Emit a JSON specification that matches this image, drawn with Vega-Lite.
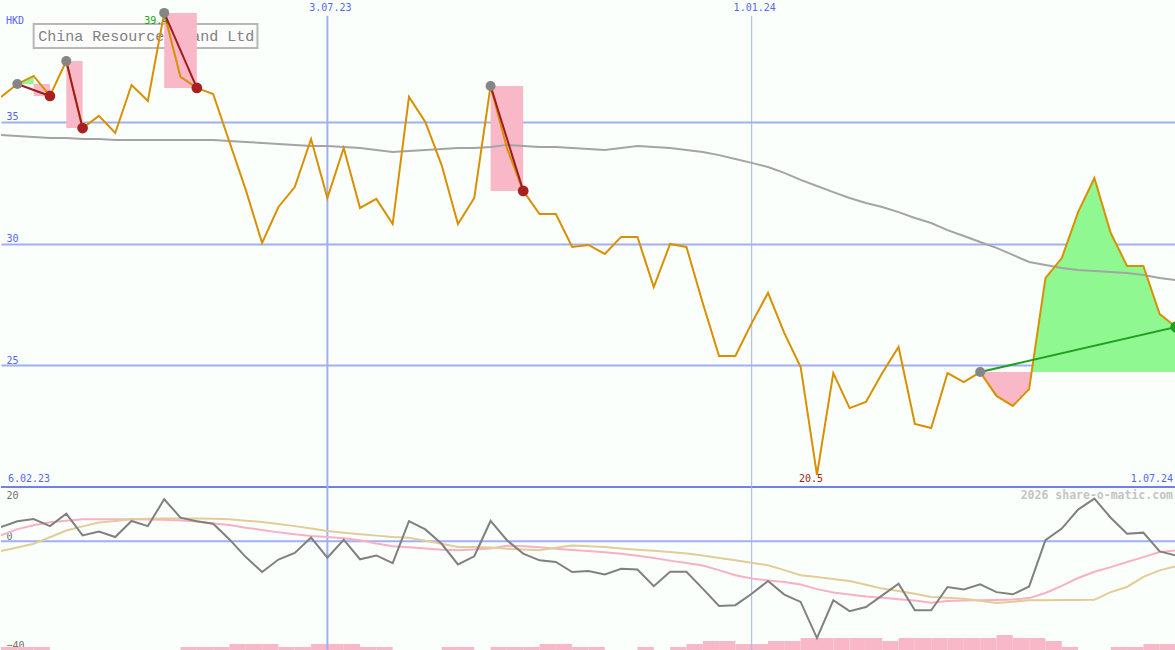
{
  "$schema": "https://vega.github.io/schema/vega-lite/v6.json",
  "background": "#fbfffb",
  "padding": 0,
  "spacing": 0,
  "bounds": "flush",
  "config": {
    "view": {"stroke": null},
    "axisX": {"disable": true},
    "axisY": {"domain": false, "ticks": false, "tickSize": 0, "labelAlign": "left", "labelPadding": -5, "labelFont": "DejaVu Sans Mono", "labelFontSize": 10}
  },
  "datasets": {
    "w": [
      {"d": "2023-02-13", "p": 36.02, "ma": 34.46, "mo": 5.3, "pk": 2.2, "tn": -3.6},
      {"d": "2023-02-20", "p": 36.55, "ma": 34.41, "mo": 7.4, "pk": 4.5, "tn": -2.3},
      {"d": "2023-02-27", "p": 36.88, "ma": 34.37, "mo": 8.2, "pk": 5.9, "tn": -0.9},
      {"d": "2023-03-06", "p": 36.06, "ma": 34.33, "mo": 5.6, "pk": 7.0, "tn": 1.5},
      {"d": "2023-03-13", "p": 37.49, "ma": 34.33, "mo": 10.2, "pk": 7.6, "tn": 4.0},
      {"d": "2023-03-20", "p": 34.74, "ma": 34.29, "mo": 2.2, "pk": 8.1, "tn": 5.5},
      {"d": "2023-03-27", "p": 35.24, "ma": 34.29, "mo": 3.6, "pk": 8.1, "tn": 6.9},
      {"d": "2023-04-03", "p": 34.54, "ma": 34.25, "mo": 1.6, "pk": 8.1, "tn": 7.5},
      {"d": "2023-04-10", "p": 36.51, "ma": 34.25, "mo": 7.5, "pk": 8.1, "tn": 8.1},
      {"d": "2023-04-17", "p": 35.85, "ma": 34.25, "mo": 5.6, "pk": 8.0, "tn": 8.3},
      {"d": "2023-04-24", "p": 39.47, "ma": 34.25, "mo": 15.5, "pk": 7.9, "tn": 8.4},
      {"d": "2023-05-01", "p": 36.84, "ma": 34.25, "mo": 8.7, "pk": 7.7, "tn": 8.4},
      {"d": "2023-05-08", "p": 36.39, "ma": 34.25, "mo": 7.4, "pk": 7.3, "tn": 8.4},
      {"d": "2023-05-15", "p": 36.14, "ma": 34.25, "mo": 6.5, "pk": 6.6, "tn": 8.3},
      {"d": "2023-05-22", "p": 34.17, "ma": 34.21, "mo": 0.7, "pk": 6.0, "tn": 8.1},
      {"d": "2023-05-29", "p": 32.20, "ma": 34.17, "mo": -5.8, "pk": 5.0, "tn": 7.6},
      {"d": "2023-06-05", "p": 30.02, "ma": 34.13, "mo": -11.3, "pk": 4.2, "tn": 7.1},
      {"d": "2023-06-12", "p": 31.50, "ma": 34.09, "mo": -6.7, "pk": 3.3, "tn": 6.4},
      {"d": "2023-06-19", "p": 32.32, "ma": 34.05, "mo": -4.3, "pk": 2.6, "tn": 5.6},
      {"d": "2023-06-26", "p": 34.29, "ma": 34.00, "mo": 1.4, "pk": 2.0, "tn": 4.7},
      {"d": "2023-07-03", "p": 31.87, "ma": 34.00, "mo": -6.0, "pk": 1.6, "tn": 3.8},
      {"d": "2023-07-10", "p": 33.92, "ma": 33.96, "mo": 0.6, "pk": 1.1, "tn": 3.2},
      {"d": "2023-07-17", "p": 31.46, "ma": 33.92, "mo": -6.6, "pk": 0.4, "tn": 2.6},
      {"d": "2023-07-24", "p": 31.83, "ma": 33.84, "mo": -5.2, "pk": -0.8, "tn": 2.1},
      {"d": "2023-07-31", "p": 30.80, "ma": 33.76, "mo": -8.0, "pk": -1.8, "tn": 1.6},
      {"d": "2023-08-07", "p": 36.02, "ma": 33.80, "mo": 7.4, "pk": -2.2, "tn": 1.3},
      {"d": "2023-08-14", "p": 34.99, "ma": 33.84, "mo": 4.4, "pk": -2.6, "tn": 0.2},
      {"d": "2023-08-21", "p": 33.22, "ma": 33.88, "mo": -0.9, "pk": -3.1, "tn": -0.9},
      {"d": "2023-08-28", "p": 30.80, "ma": 33.92, "mo": -8.5, "pk": -3.3, "tn": -2.1},
      {"d": "2023-09-04", "p": 31.87, "ma": 33.92, "mo": -5.5, "pk": -3.0, "tn": -2.1},
      {"d": "2023-09-11", "p": 36.47, "ma": 33.96, "mo": 7.5, "pk": -2.6, "tn": -2.3},
      {"d": "2023-09-18", "p": 33.92, "ma": 34.05, "mo": 0.4, "pk": -1.6, "tn": -2.7},
      {"d": "2023-09-25", "p": 32.16, "ma": 34.00, "mo": -4.5, "pk": -1.8, "tn": -3.0},
      {"d": "2023-10-02", "p": 31.21, "ma": 33.96, "mo": -7.0, "pk": -2.2, "tn": -3.3},
      {"d": "2023-10-09", "p": 31.21, "ma": 33.96, "mo": -7.6, "pk": -2.7, "tn": -2.4},
      {"d": "2023-10-16", "p": 29.86, "ma": 33.92, "mo": -11.3, "pk": -3.2, "tn": -1.5},
      {"d": "2023-10-23", "p": 29.94, "ma": 33.88, "mo": -10.9, "pk": -3.6, "tn": -1.8},
      {"d": "2023-10-30", "p": 29.57, "ma": 33.84, "mo": -12.2, "pk": -4.0, "tn": -2.1},
      {"d": "2023-11-06", "p": 30.27, "ma": 33.92, "mo": -10.1, "pk": -4.6, "tn": -2.6},
      {"d": "2023-11-13", "p": 30.27, "ma": 34.00, "mo": -10.4, "pk": -5.3, "tn": -3.1},
      {"d": "2023-11-20", "p": 28.21, "ma": 33.96, "mo": -16.5, "pk": -6.1, "tn": -3.5},
      {"d": "2023-11-27", "p": 29.98, "ma": 33.92, "mo": -11.2, "pk": -7.1, "tn": -3.9},
      {"d": "2023-12-04", "p": 29.86, "ma": 33.84, "mo": -11.2, "pk": -8.0, "tn": -4.5},
      {"d": "2023-12-11", "p": 27.56, "ma": 33.76, "mo": -17.4, "pk": -8.9, "tn": -5.2},
      {"d": "2023-12-18", "p": 25.38, "ma": 33.63, "mo": -23.8, "pk": -10.6, "tn": -6.1},
      {"d": "2023-12-25", "p": 25.38, "ma": 33.47, "mo": -23.5, "pk": -12.5, "tn": -7.0},
      {"d": "2024-01-01", "p": 26.73, "ma": 33.31, "mo": -19.3, "pk": -13.7, "tn": -7.9},
      {"d": "2024-01-08", "p": 27.97, "ma": 33.14, "mo": -14.6, "pk": -14.4, "tn": -8.8},
      {"d": "2024-01-15", "p": 26.32, "ma": 32.90, "mo": -19.6, "pk": -15.0, "tn": -10.6},
      {"d": "2024-01-22", "p": 24.93, "ma": 32.61, "mo": -22.3, "pk": -15.9, "tn": -12.5},
      {"d": "2024-01-29", "p": 20.50, "ma": 32.36, "mo": -35.6, "pk": -17.6, "tn": -13.1},
      {"d": "2024-02-05", "p": 24.68, "ma": 32.11, "mo": -21.7, "pk": -18.8, "tn": -13.9},
      {"d": "2024-02-12", "p": 23.24, "ma": 31.87, "mo": -25.7, "pk": -19.6, "tn": -14.6},
      {"d": "2024-02-19", "p": 23.49, "ma": 31.66, "mo": -24.2, "pk": -20.3, "tn": -16.0},
      {"d": "2024-02-26", "p": 24.68, "ma": 31.50, "mo": -19.9, "pk": -20.8, "tn": -17.4},
      {"d": "2024-03-04", "p": 25.75, "ma": 31.29, "mo": -15.6, "pk": -21.3, "tn": -18.3},
      {"d": "2024-03-11", "p": 22.59, "ma": 31.05, "mo": -25.4, "pk": -21.8, "tn": -19.3},
      {"d": "2024-03-18", "p": 22.42, "ma": 30.84, "mo": -25.4, "pk": -22.6, "tn": -20.5},
      {"d": "2024-03-25", "p": 24.68, "ma": 30.55, "mo": -16.8, "pk": -22.0, "tn": -20.8},
      {"d": "2024-04-01", "p": 24.31, "ma": 30.31, "mo": -17.7, "pk": -21.8, "tn": -21.1},
      {"d": "2024-04-08", "p": 24.72, "ma": 30.06, "mo": -15.8, "pk": -21.7, "tn": -21.9},
      {"d": "2024-04-15", "p": 23.74, "ma": 29.82, "mo": -18.7, "pk": -21.6, "tn": -22.7},
      {"d": "2024-04-22", "p": 23.33, "ma": 29.53, "mo": -19.5, "pk": -21.4, "tn": -22.2},
      {"d": "2024-04-29", "p": 24.02, "ma": 29.24, "mo": -16.6, "pk": -20.9, "tn": -21.7},
      {"d": "2024-05-06", "p": 28.58, "ma": 29.12, "mo": 0.4, "pk": -19.0, "tn": -21.7},
      {"d": "2024-05-13", "p": 29.40, "ma": 28.99, "mo": 4.7, "pk": -16.4, "tn": -21.6},
      {"d": "2024-05-20", "p": 31.29, "ma": 28.91, "mo": 11.7, "pk": -13.5, "tn": -21.6},
      {"d": "2024-05-27", "p": 32.69, "ma": 28.87, "mo": 15.7, "pk": -11.2, "tn": -21.5},
      {"d": "2024-06-03", "p": 30.43, "ma": 28.83, "mo": 8.7, "pk": -9.5, "tn": -18.7},
      {"d": "2024-06-10", "p": 29.08, "ma": 28.79, "mo": 2.8, "pk": -7.6, "tn": -16.8},
      {"d": "2024-06-17", "p": 29.08, "ma": 28.71, "mo": 3.2, "pk": -5.8, "tn": -13.1},
      {"d": "2024-06-24", "p": 27.10, "ma": 28.58, "mo": -3.7, "pk": -3.9, "tn": -10.7},
      {"d": "2024-07-01", "p": 26.57, "ma": 28.50, "mo": -5.2, "pk": -3.3, "tn": -9.2}
    ],
    "vol": [
      {"d": "2023-02-13", "d2": "2023-02-20", "v": 3},
      {"d": "2023-02-20", "d2": "2023-02-27", "v": 3},
      {"d": "2023-02-27", "d2": "2023-03-06", "v": 3},
      {"d": "2023-05-01", "d2": "2023-05-08", "v": 3},
      {"d": "2023-05-08", "d2": "2023-05-15", "v": 3},
      {"d": "2023-05-15", "d2": "2023-05-22", "v": 3},
      {"d": "2023-05-22", "d2": "2023-05-29", "v": 6},
      {"d": "2023-05-29", "d2": "2023-06-05", "v": 6},
      {"d": "2023-06-05", "d2": "2023-06-12", "v": 6},
      {"d": "2023-06-12", "d2": "2023-06-19", "v": 3},
      {"d": "2023-06-19", "d2": "2023-06-26", "v": 3},
      {"d": "2023-06-26", "d2": "2023-07-03", "v": 6},
      {"d": "2023-07-03", "d2": "2023-07-10", "v": 6},
      {"d": "2023-07-10", "d2": "2023-07-17", "v": 6},
      {"d": "2023-07-17", "d2": "2023-07-24", "v": 3},
      {"d": "2023-07-24", "d2": "2023-07-31", "v": 3},
      {"d": "2023-08-21", "d2": "2023-08-28", "v": 3},
      {"d": "2023-08-28", "d2": "2023-09-04", "v": 3},
      {"d": "2023-09-11", "d2": "2023-09-18", "v": 3},
      {"d": "2023-09-18", "d2": "2023-09-25", "v": 3},
      {"d": "2023-09-25", "d2": "2023-10-02", "v": 3},
      {"d": "2023-10-02", "d2": "2023-10-09", "v": 6},
      {"d": "2023-10-09", "d2": "2023-10-16", "v": 6},
      {"d": "2023-10-16", "d2": "2023-10-23", "v": 3},
      {"d": "2023-10-23", "d2": "2023-10-30", "v": 3},
      {"d": "2023-11-13", "d2": "2023-11-20", "v": 3},
      {"d": "2023-11-27", "d2": "2023-12-04", "v": 3},
      {"d": "2023-12-04", "d2": "2023-12-11", "v": 6},
      {"d": "2023-12-11", "d2": "2023-12-18", "v": 9},
      {"d": "2023-12-18", "d2": "2023-12-25", "v": 9},
      {"d": "2023-12-25", "d2": "2024-01-01", "v": 6},
      {"d": "2024-01-01", "d2": "2024-01-08", "v": 6},
      {"d": "2024-01-08", "d2": "2024-01-15", "v": 9},
      {"d": "2024-01-15", "d2": "2024-01-22", "v": 9},
      {"d": "2024-01-22", "d2": "2024-01-29", "v": 12},
      {"d": "2024-01-29", "d2": "2024-02-05", "v": 12},
      {"d": "2024-02-05", "d2": "2024-02-12", "v": 12},
      {"d": "2024-02-12", "d2": "2024-02-19", "v": 12},
      {"d": "2024-02-19", "d2": "2024-02-26", "v": 12},
      {"d": "2024-02-26", "d2": "2024-03-04", "v": 9},
      {"d": "2024-03-04", "d2": "2024-03-11", "v": 12},
      {"d": "2024-03-11", "d2": "2024-03-18", "v": 12},
      {"d": "2024-03-18", "d2": "2024-03-25", "v": 12},
      {"d": "2024-03-25", "d2": "2024-04-01", "v": 12},
      {"d": "2024-04-01", "d2": "2024-04-08", "v": 12},
      {"d": "2024-04-08", "d2": "2024-04-15", "v": 12},
      {"d": "2024-04-15", "d2": "2024-04-22", "v": 15},
      {"d": "2024-04-22", "d2": "2024-04-29", "v": 12},
      {"d": "2024-04-29", "d2": "2024-05-06", "v": 12},
      {"d": "2024-05-06", "d2": "2024-05-13", "v": 9},
      {"d": "2024-05-13", "d2": "2024-05-20", "v": 3},
      {"d": "2024-06-03", "d2": "2024-06-10", "v": 3},
      {"d": "2024-06-10", "d2": "2024-06-17", "v": 3},
      {"d": "2024-06-17", "d2": "2024-06-24", "v": 6},
      {"d": "2024-06-24", "d2": "2024-07-01", "v": 6}
    ],
    "boxes": [
      {"s": 1, "d1": "2023-02-27", "d2": "2023-03-06", "hi": 36.55, "lo": 36.06},
      {"s": 2, "d1": "2023-03-13", "d2": "2023-03-20", "hi": 37.49, "lo": 34.74},
      {"s": 3, "d1": "2023-04-24", "d2": "2023-05-08", "hi": 39.47, "lo": 36.39},
      {"s": 4, "d1": "2023-09-11", "d2": "2023-09-25", "hi": 36.47, "lo": 32.16}
    ],
    "zones": [
      {"z": "a", "d": "2023-02-20", "p": 36.55, "lvl": 36.55, "kind": "gain"},
      {"z": "a", "d": "2023-02-27", "p": 36.88, "lvl": 36.55, "kind": "gain"},
      {"z": "b", "d": "2024-04-08", "p": 24.72, "lvl": 24.72, "kind": "loss"},
      {"z": "b", "d": "2024-04-15", "p": 23.74, "lvl": 24.72, "kind": "loss"},
      {"z": "b", "d": "2024-04-22", "p": 23.33, "lvl": 24.72, "kind": "loss"},
      {"z": "b", "d": "2024-04-29", "p": 24.02, "lvl": 24.72, "kind": "loss"},
      {"z": "b", "d": "2024-04-30", "p": 24.72, "lvl": 24.72, "kind": "loss"},
      {"z": "c", "d": "2024-04-30", "p": 24.72, "lvl": 24.72, "kind": "gain"},
      {"z": "c", "d": "2024-05-06", "p": 28.58, "lvl": 24.72, "kind": "gain"},
      {"z": "c", "d": "2024-05-13", "p": 29.40, "lvl": 24.72, "kind": "gain"},
      {"z": "c", "d": "2024-05-20", "p": 31.29, "lvl": 24.72, "kind": "gain"},
      {"z": "c", "d": "2024-05-27", "p": 32.69, "lvl": 24.72, "kind": "gain"},
      {"z": "c", "d": "2024-06-03", "p": 30.43, "lvl": 24.72, "kind": "gain"},
      {"z": "c", "d": "2024-06-10", "p": 29.08, "lvl": 24.72, "kind": "gain"},
      {"z": "c", "d": "2024-06-17", "p": 29.08, "lvl": 24.72, "kind": "gain"},
      {"z": "c", "d": "2024-06-24", "p": 27.10, "lvl": 24.72, "kind": "gain"},
      {"z": "c", "d": "2024-07-01", "p": 26.57, "lvl": 24.72, "kind": "gain"}
    ],
    "links": [
      {"s": 1, "d": "2023-02-20", "p": 36.55, "kind": "loss"},
      {"s": 1, "d": "2023-03-06", "p": 36.06, "kind": "loss"},
      {"s": 2, "d": "2023-03-13", "p": 37.49, "kind": "loss"},
      {"s": 2, "d": "2023-03-20", "p": 34.74, "kind": "loss"},
      {"s": 3, "d": "2023-04-24", "p": 39.47, "kind": "loss"},
      {"s": 3, "d": "2023-05-08", "p": 36.39, "kind": "loss"},
      {"s": 4, "d": "2023-09-11", "p": 36.47, "kind": "loss"},
      {"s": 4, "d": "2023-09-25", "p": 32.16, "kind": "loss"},
      {"s": 5, "d": "2024-04-08", "p": 24.72, "kind": "gain"},
      {"s": 5, "d": "2024-07-01", "p": 26.57, "kind": "gain"}
    ],
    "dots": [
      {"d": "2023-02-20", "p": 36.55, "kind": "start"},
      {"d": "2023-03-13", "p": 37.49, "kind": "start"},
      {"d": "2023-04-24", "p": 39.47, "kind": "start"},
      {"d": "2023-09-11", "p": 36.47, "kind": "start"},
      {"d": "2024-04-08", "p": 24.72, "kind": "start"},
      {"d": "2023-03-06", "p": 36.06, "kind": "loss"},
      {"d": "2023-03-20", "p": 34.74, "kind": "loss"},
      {"d": "2023-05-08", "p": 36.39, "kind": "loss"},
      {"d": "2023-09-25", "p": 32.16, "kind": "loss"},
      {"d": "2024-07-01", "p": 26.57, "kind": "gain"}
    ],
    "marks": [
      {"d": "2023-07-03", "t": "3.07.23"},
      {"d": "2024-01-01", "t": "1.01.24"}
    ],
    "ends": [
      {"d": "2023-02-13", "t": "6.02.23"},
      {"d": "2024-07-01", "t": "1.07.24"}
    ],
    "note": [
      {"d1": "2023-02-27", "d2": "2023-06-03", "dt": "2023-03-01", "hi": 39.01, "lo": 38.03, "mid": 38.52, "t": "China Resources Land Ltd"}
    ]
  },
  "vconcat": [
    {
      "width": 1175,
      "height": 487,
      "encoding": {
        "x": {"type": "temporal", "scale": {"type": "utc", "domain": ["2023-02-13", "2024-07-01"]}},
        "y": {"type": "quantitative", "scale": {"domain": [20, 40]}, "title": null, "axis": {"values": [25, 30, 35], "grid": true, "gridColor": "#a0b0f0", "gridWidth": 2, "labelBaseline": "bottom", "labelColor": "#5566ee"}}
      },
      "layer": [
        {
          "data": {"name": "note"},
          "mark": {"type": "rect", "fill": "#fdfdfd", "stroke": "#b8b8b8", "strokeWidth": 2},
          "encoding": {
            "x": {"field": "d1", "type": "temporal"},
            "x2": {"field": "d2"},
            "y": {"field": "hi", "type": "quantitative"},
            "y2": {"field": "lo"}
          }
        },
        {
          "data": {"name": "note"},
          "mark": {"type": "text", "font": "Liberation Mono", "fontSize": 15, "fill": "#808080", "align": "left", "baseline": "middle"},
          "encoding": {
            "x": {"field": "dt", "type": "temporal"},
            "y": {"field": "mid", "type": "quantitative"},
            "text": {"field": "t"}
          }
        },
        {
          "data": {"values": [{"v": 20}]},
          "mark": {"type": "rule", "color": "#7080e8", "strokeWidth": 2},
          "encoding": {"y": {"field": "v", "type": "quantitative"}}
        },
        {
          "data": {"name": "marks"},
          "mark": {"type": "rule", "color": "#a0b0f0"},
          "encoding": {
            "x": {"field": "d", "type": "temporal"},
            "y": {"datum": 39.35, "type": "quantitative"},
            "y2": {"datum": 20},
            "strokeWidth": {"condition": {"test": "utcyear(datum.d) == 2023", "value": 2}, "value": 1}
          }
        },
        {
          "data": {"name": "marks"},
          "mark": {"type": "text", "font": "DejaVu Sans Mono", "fontSize": 10, "fill": "#5566ee", "align": "center", "baseline": "middle", "dx": 3},
          "encoding": {
            "x": {"field": "d", "type": "temporal"},
            "y": {"datum": 39.66, "type": "quantitative"},
            "text": {"field": "t"}
          }
        },
        {
          "data": {"name": "ends"},
          "transform": [{"filter": "utcyear(datum.d) == 2023"}],
          "mark": {"type": "text", "font": "DejaVu Sans Mono", "fontSize": 10, "fill": "#5566ee", "align": "left", "baseline": "middle", "dx": 7},
          "encoding": {
            "x": {"field": "d", "type": "temporal"},
            "y": {"datum": 20.33, "type": "quantitative"},
            "text": {"field": "t"}
          }
        },
        {
          "data": {"name": "ends"},
          "transform": [{"filter": "utcyear(datum.d) == 2024"}],
          "mark": {"type": "text", "font": "DejaVu Sans Mono", "fontSize": 10, "fill": "#5566ee", "align": "right", "baseline": "middle", "dx": -3},
          "encoding": {
            "x": {"field": "d", "type": "temporal"},
            "y": {"datum": 20.33, "type": "quantitative"},
            "text": {"field": "t"}
          }
        },
        {
          "data": {"name": "ends"},
          "transform": [{"filter": "utcyear(datum.d) == 2023"}],
          "mark": {"type": "text", "font": "DejaVu Sans Mono", "fontSize": 10, "fill": "#5566ee", "align": "left", "baseline": "middle", "dx": 5},
          "encoding": {
            "x": {"field": "d", "type": "temporal"},
            "y": {"datum": 39.14, "type": "quantitative"},
            "text": {"value": "HKD"}
          }
        },
        {
          "data": {"name": "boxes"},
          "mark": {"type": "rect", "color": "#f8b8c8", "opacity": 1},
          "encoding": {
            "x": {"field": "d1", "type": "temporal"},
            "x2": {"field": "d2"},
            "y": {"field": "hi", "type": "quantitative"},
            "y2": {"field": "lo"}
          }
        },
        {
          "data": {"name": "zones"},
          "mark": {"type": "area", "opacity": 1},
          "encoding": {
            "x": {"field": "d", "type": "temporal"},
            "y": {"field": "p", "type": "quantitative"},
            "y2": {"field": "lvl"},
            "detail": {"field": "z"},
            "color": {"field": "kind", "type": "nominal", "legend": null, "scale": {"domain": ["gain", "loss"], "range": ["#90f890", "#f8b8c8"]}}
          }
        },
        {
          "data": {"name": "w"},
          "mark": {"type": "line", "color": "#a4a4a4", "strokeWidth": 2, "clip": true},
          "encoding": {
            "x": {"field": "d", "type": "temporal"},
            "y": {"field": "ma", "type": "quantitative"}
          }
        },
        {
          "data": {"name": "w"},
          "mark": {"type": "line", "color": "#d89000", "strokeWidth": 2, "clip": true},
          "encoding": {
            "x": {"field": "d", "type": "temporal"},
            "y": {"field": "p", "type": "quantitative"}
          }
        },
        {
          "data": {"name": "w"},
          "transform": [{"filter": "datum.p > 39"}],
          "mark": {"type": "text", "font": "DejaVu Sans Mono", "fontSize": 10, "fill": "#20a020", "align": "center", "baseline": "middle", "dx": -8, "dy": 8},
          "encoding": {
            "x": {"field": "d", "type": "temporal"},
            "y": {"field": "p", "type": "quantitative"},
            "text": {"value": "39.4"}
          }
        },
        {
          "data": {"name": "w"},
          "transform": [{"filter": "datum.p < 21"}],
          "mark": {"type": "text", "font": "DejaVu Sans Mono", "fontSize": 10, "fill": "#a01818", "align": "center", "baseline": "middle", "dx": -6, "dy": 4},
          "encoding": {
            "x": {"field": "d", "type": "temporal"},
            "y": {"field": "p", "type": "quantitative"},
            "text": {"field": "p", "type": "quantitative", "format": ".1f"}
          }
        },
        {
          "data": {"name": "links"},
          "mark": {"type": "line", "strokeWidth": 2, "clip": true},
          "encoding": {
            "x": {"field": "d", "type": "temporal"},
            "y": {"field": "p", "type": "quantitative"},
            "detail": {"field": "s"},
            "stroke": {"field": "kind", "type": "nominal", "legend": null, "scale": {"domain": ["loss", "gain"], "range": ["#a01c1c", "#22a022"]}}
          }
        },
        {
          "data": {"name": "dots"},
          "mark": {"type": "point", "filled": true, "opacity": 1, "shape": "circle", "clip": true},
          "encoding": {
            "x": {"field": "d", "type": "temporal"},
            "y": {"field": "p", "type": "quantitative"},
            "fill": {"field": "kind", "type": "nominal", "legend": null, "scale": {"domain": ["start", "loss", "gain"], "range": ["#858585", "#a82020", "#22a022"]}},
            "size": {"field": "kind", "type": "nominal", "legend": null, "scale": {"domain": ["start", "loss", "gain"], "range": [100, 130, 130]}}
          }
        }
      ]
    },
    {
      "width": 1175,
      "height": 163,
      "resolve": {"scale": {"y": "independent"}, "axis": {"y": "independent"}},
      "layer": [
        {
          "data": {"name": "vol"},
          "mark": {"type": "rect", "color": "#f8b8c8"},
          "encoding": {
            "x": {"field": "d", "type": "temporal", "scale": {"type": "utc", "domain": ["2023-02-13", "2024-07-01"]}},
            "x2": {"field": "d2"},
            "y": {"field": "v", "type": "quantitative", "scale": {"domain": [0, 163]}, "axis": null},
            "y2": {"datum": 0}
          }
        },
        {
          "encoding": {
            "x": {"type": "temporal", "scale": {"type": "utc", "domain": ["2023-02-13", "2024-07-01"]}},
            "y": {"type": "quantitative", "scale": {"domain": [-40, 20]}, "title": null, "axis": {"values": [20, 0, -40], "grid": false, "labelBaseline": {"condition": {"test": "datum.value == 20", "value": "top"}, "value": "bottom"}, "labelOffset": {"condition": {"test": "datum.value == 20", "value": 3}, "value": 0}, "labelColor": "#707070"}}
          },
          "layer": [
            {
              "data": {"values": [{"v": 0}]},
              "mark": {"type": "rule", "color": "#a0b0f0", "strokeWidth": 2},
              "encoding": {"y": {"field": "v", "type": "quantitative"}}
            },
            {
              "data": {"name": "marks"},
              "mark": {"type": "rule", "color": "#a0b0f0"},
              "encoding": {
                "x": {"field": "d", "type": "temporal"},
                "strokeWidth": {"condition": {"test": "utcyear(datum.d) == 2023", "value": 2}, "value": 1}
              }
            },
            {
              "data": {"name": "w"},
              "mark": {"type": "line", "color": "#f8b0c8", "strokeWidth": 2, "clip": true},
              "encoding": {
                "x": {"field": "d", "type": "temporal"},
                "y": {"field": "pk", "type": "quantitative"}
              }
            },
            {
              "data": {"name": "w"},
              "mark": {"type": "line", "color": "#e2cc98", "strokeWidth": 2, "clip": true},
              "encoding": {
                "x": {"field": "d", "type": "temporal"},
                "y": {"field": "tn", "type": "quantitative"}
              }
            },
            {
              "data": {"name": "w"},
              "mark": {"type": "line", "color": "#808080", "strokeWidth": 2, "clip": true},
              "encoding": {
                "x": {"field": "d", "type": "temporal"},
                "y": {"field": "mo", "type": "quantitative"}
              }
            },
            {
              "data": {"name": "ends"},
              "transform": [{"filter": "utcyear(datum.d) == 2024"}],
              "mark": {"type": "text", "font": "DejaVu Sans Mono", "fontWeight": "bold", "fontSize": 11.5, "fill": "#c4c4c4", "align": "right", "baseline": "middle", "dx": -3},
              "encoding": {
                "x": {"field": "d", "type": "temporal"},
                "y": {"datum": 16.7, "type": "quantitative"},
                "text": {"value": "2026 share-o-matic.com"}
              }
            }
          ]
        }
      ]
    }
  ]
}
